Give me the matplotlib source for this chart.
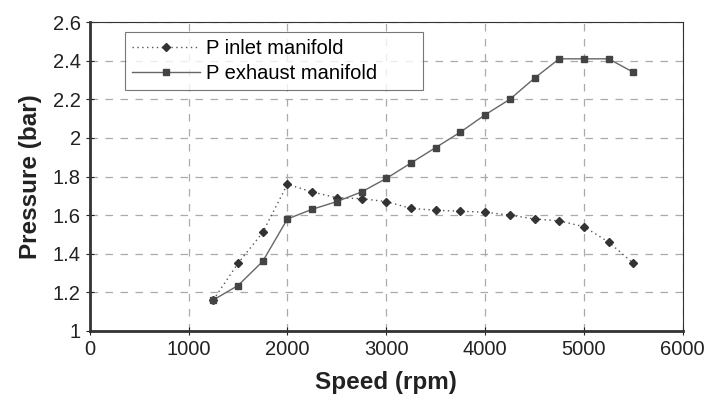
import numpy as np
import matplotlib
matplotlib.use("Agg")
import matplotlib.pyplot as plt

plt.rcParams['font.family'] = ['Liberation Sans', 'DejaVu Sans']

speed = [1250, 1500, 1750, 2000, 2250, 2500, 2750, 3000, 3250,
         3500, 3750, 4000, 4250, 4500, 4750, 5000, 5250, 5500]
p_inlet = [1.16, 1.35, 1.51, 1.76, 1.72, 1.69, 1.685, 1.67, 1.635,
           1.625, 1.62, 1.615, 1.60, 1.58, 1.57, 1.54, 1.46, 1.35]
p_exhaust = [1.16, 1.235, 1.36, 1.58, 1.63, 1.67, 1.72, 1.79, 1.87,
             1.95, 2.03, 2.12, 2.20, 2.31, 2.41, 2.41, 2.41, 2.34]

fig = plt.figure(figsize=(7.12, 4.03), dpi=100)
ax = fig.add_axes([0.126, 0.179, 0.833, 0.766])

ax.plot(speed, p_inlet, linestyle=(0, (1, 2.5)), color='#555555', lw=1,
        marker='D', markersize=4, markerfacecolor='#333333',
        markeredgecolor='#333333', label='P inlet manifold')
ax.plot(speed, p_exhaust, linestyle='-', color='#666666', lw=1,
        marker='s', markersize=5, markerfacecolor='#444444',
        markeredgecolor='#444444', label='P exhaust manifold')

ax.set_xlim(0, 6000)
ax.set_ylim(1, 2.6)
ax.set_xticks(np.arange(0, 6001, 1000))
ax.set_yticks([1, 1.2, 1.4, 1.6, 1.8, 2, 2.2, 2.4, 2.6])
ax.set_yticklabels(['1', '1.2', '1.4', '1.6', '1.8', '2', '2.2', '2.4', '2.6'])
ax.grid(True, linestyle=(0, (6, 6)), color='#aaaaaa', lw=0.9)
ax.tick_params(labelsize=14.5, colors='#222222', length=6, direction='inout')
for s in ax.spines.values():
    s.set_color('#333333')
ax.spines['bottom'].set_linewidth(2)
ax.spines['left'].set_linewidth(2)

ax.set_xlabel('Speed (rpm)', fontsize=17.5, fontweight='bold', color='#222222',
              labelpad=9)
ax.set_ylabel('Pressure (bar)', fontsize=17.5, fontweight='bold', color='#222222',
              labelpad=8)

leg = ax.legend(loc='upper left', bbox_to_anchor=(0.059, 0.78, 0.503, 0.188),
                mode='expand', borderaxespad=0, fontsize=14.5,
                frameon=True, fancybox=False, handlelength=3.4,
                borderpad=0.35, labelspacing=0.3, handletextpad=0.3)
leg.get_frame().set_edgecolor('#555555')
leg.get_frame().set_linewidth(0.8)

fig.savefig('out.png', dpi=100)
